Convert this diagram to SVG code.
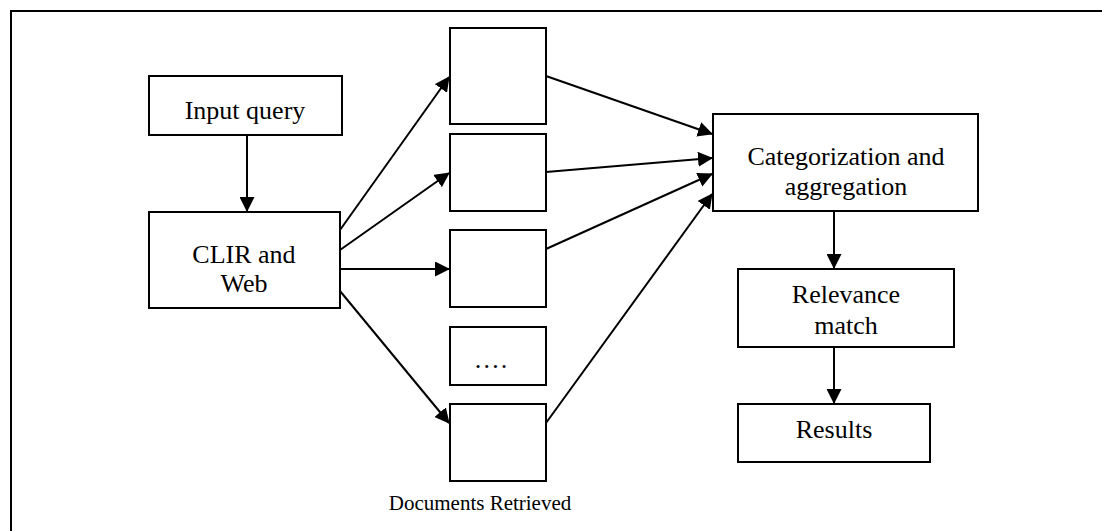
<svg xmlns="http://www.w3.org/2000/svg" width="1102" height="531" viewBox="0 0 1102 531">
<style>
.box{fill:#fff;stroke:#000;stroke-width:2}
.lbl{font-family:"Liberation Serif","Times New Roman",serif;font-size:26px;fill:#000;text-anchor:middle}
.cap{font-family:"Liberation Serif","Times New Roman",serif;font-size:21px;fill:#000;text-anchor:middle}
.edge{stroke:#000;stroke-width:2;fill:none;marker-end:url(#arr)}
</style>
<defs>
<marker id="arr" markerWidth="15" markerHeight="15" refX="14" refY="7.5" orient="auto" markerUnits="userSpaceOnUse">
<path d="M0,0 L15,7.5 L0,15 Z" fill="#000"/>
</marker>
</defs>
<rect width="1102" height="531" fill="#fff"/>
<path d="M11,531 L11,11 L1102,11" fill="none" stroke="#000" stroke-width="2"/>
<g id="connectors">
<line class="edge" x1="247" y1="135" x2="247" y2="211"/>
<line class="edge" x1="340" y1="230" x2="449" y2="77"/>
<line class="edge" x1="340" y1="250" x2="449" y2="173"/>
<line class="edge" x1="340" y1="269" x2="449" y2="269"/>
<line class="edge" x1="340" y1="291" x2="449" y2="423"/>
<line class="edge" x1="546" y1="76" x2="712" y2="134"/>
<line class="edge" x1="546" y1="172" x2="712" y2="158"/>
<line class="edge" x1="546" y1="249" x2="712" y2="174"/>
<line class="edge" x1="546" y1="423" x2="712" y2="194"/>
<line class="edge" x1="834" y1="211" x2="834" y2="268"/>
<line class="edge" x1="834" y1="347" x2="834" y2="403"/>
</g>
<g id="input-query">
<rect class="box" x="149" y="76" width="193" height="59"/>
<text class="lbl" x="245" y="119">Input query</text>
</g>
<g id="clir-web">
<rect class="box" x="149" y="212" width="191" height="96"/>
<text class="lbl" x="244" y="263">CLIR and</text>
<text class="lbl" x="244" y="292">Web</text>
</g>
<g id="doc1"><rect class="box" x="450" y="28" width="96" height="96"/></g>
<g id="doc2"><rect class="box" x="450" y="134" width="96" height="77"/></g>
<g id="doc3"><rect class="box" x="450" y="230" width="96" height="77"/></g>
<g id="doc-dots">
<rect class="box" x="450" y="327" width="96" height="58"/>
<text class="lbl" x="491" y="368" letter-spacing="1">….</text>
</g>
<g id="doc5"><rect class="box" x="450" y="404" width="96" height="77"/></g>
<g id="caption">
<text class="cap" x="480" y="510">Documents Retrieved</text>
</g>
<g id="categorization">
<rect class="box" x="713" y="114" width="265" height="97"/>
<text class="lbl" x="846" y="165">Categorization and</text>
<text class="lbl" x="846" y="195">aggregation</text>
</g>
<g id="relevance">
<rect class="box" x="738" y="269" width="216" height="78"/>
<text class="lbl" x="846" y="303">Relevance</text>
<text class="lbl" x="846" y="334">match</text>
</g>
<g id="results">
<rect class="box" x="738" y="404" width="192" height="58"/>
<text class="lbl" x="834" y="438">Results</text>
</g>
</svg>
